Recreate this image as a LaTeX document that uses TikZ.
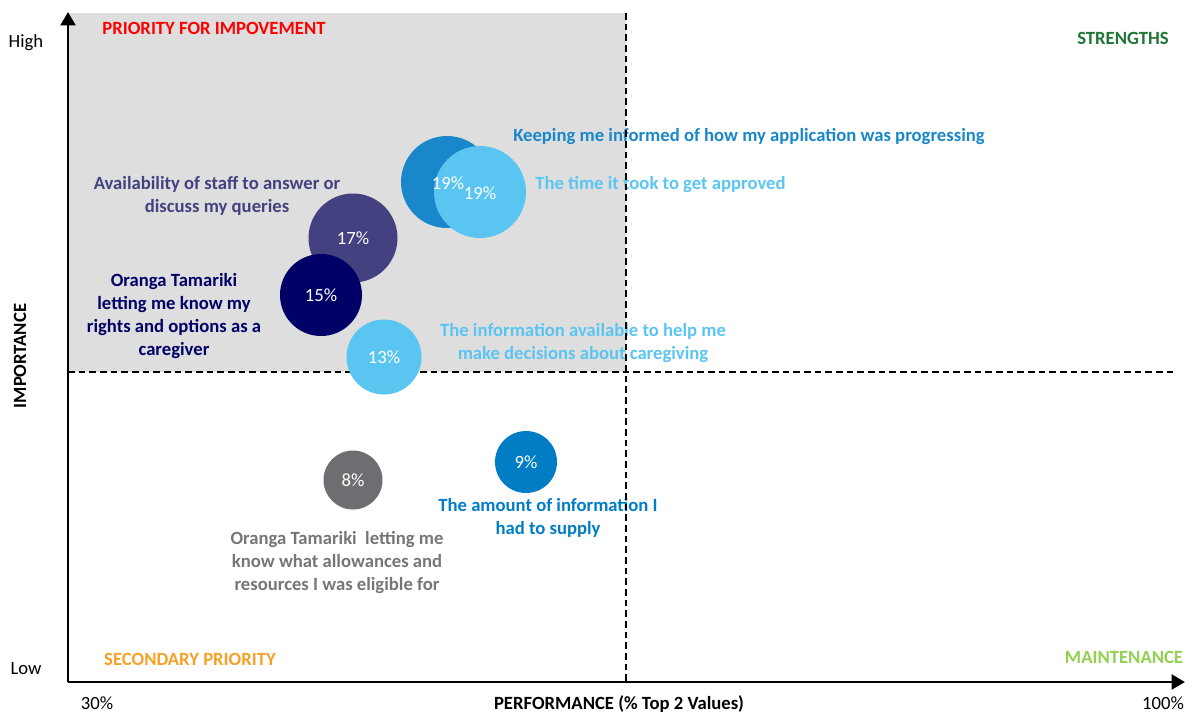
\documentclass[tikz,border=0pt]{standalone}
\usepackage{fontspec}
\setmainfont{Carlito}
\usetikzlibrary{arrows.meta}
\definecolor{bgGrey}{RGB}{222,222,222}
\definecolor{cRed}{RGB}{255,0,0}
\definecolor{cGreen}{RGB}{33,118,52}
\definecolor{cOrange}{RGB}{247,160,40}
\definecolor{cLGreen}{RGB}{146,208,80}
\definecolor{cBlue}{RGB}{26,135,202}
\definecolor{cLBlue}{RGB}{91,197,242}
\definecolor{cPurple}{RGB}{68,65,128}
\definecolor{cNavy}{RGB}{0,0,102}
\definecolor{cGrey}{RGB}{110,110,114}
\definecolor{cGreyT}{RGB}{118,118,120}
\definecolor{cBlue9}{RGB}{0,125,197}
\begin{document}
\begin{tikzpicture}[x=0.75pt,y=-0.75pt,
  bubble/.style={circle, inner sep=0pt, text=white, font=\fontsize{14}{16}\selectfont},
  lbl/.style={font=\bfseries\fontsize{14}{17.25}\selectfont, align=center, inner sep=0pt},
  quad/.style={font=\bfseries\fontsize{14}{16}\selectfont, inner sep=0pt},
  tick/.style={font=\fontsize{14}{16}\selectfont, inner sep=0pt},
  divider/.style={line width=1.3pt, dash pattern=on 5pt off 3pt},
  axis/.style={line width=2.2pt, -{Triangle[length=10pt,width=11pt]}}]
\useasboundingbox (0,0) rectangle (1192,715);
\fill[bgGrey] (68,13) rectangle (626,372);
% labels
\node[quad, text=cRed] (qpi) at (214,28) {PRIORITY FOR IMPOVEMENT};
\node[quad, text=cGreen] (qs) at (1123,38) {STRENGTHS};
\node[quad, text=cOrange] (qsp) at (190,659) {SECONDARY PRIORITY};
\node[quad, text=cLGreen] (qm) at (1124,657) {MAINTENANCE};
\node[tick] (high) at (26,43) {High};
\node[tick] (low) at (26,669) {Low};
\node[tick] (p30) at (97,703) {30\%};
\node[tick] (p100) at (1163,703) {100\%};
\node[quad] (xl) at (619,704) {PERFORMANCE (\% Top 2 Values)};
\node[quad, rotate=90] (yl) at (20,356) {IMPORTANCE};
\node[lbl, text=cBlue, anchor=west] (lk) at (513,137) {Keeping me informed of how my application was progressing};
\node[lbl, text=cLBlue, anchor=west] (lt) at (535,185) {The time it took to get approved};
\node[lbl, text=cPurple] (la) at (217,196) {Availability of staff to answer or\\discuss my queries};
\node[lbl, text=cNavy] (lo) at (174,316) {Oranga Tamariki\\letting me know my\\rights and options as a\\caregiver};
\node[lbl, text=cLBlue] (li) at (583,343) {The information available to help me\\make decisions about caregiving};
\node[lbl, text=cBlue9] (lam) at (548,518) {The amount of information I\\had to supply};
\node[lbl, text=cGreyT] (lr) at (337,563) {Oranga Tamariki\ \ letting me\\know what allowances and\\resources I was eligible for};
% dividers
\coordinate (vt) at (626,13);
\coordinate (vb) at (626,682);
\coordinate (hl) at (68,372);
\coordinate (hr) at (1175,372);
\draw[divider] (vt) -- (vb);
\draw[divider] (hl) -- (hr);
% axes
\coordinate (o) at (68,682);
\coordinate (ytop) at (68,12);
\coordinate (xend) at (1185,682);
\draw[axis] (o) -- (ytop);
\draw[axis] (o) -- (xend);
% bubbles
\node[bubble, fill=cBlue, minimum size=69pt] (b19a) at (447,182) {};
\node[bubble, fill=cLBlue, minimum size=69pt] (b19b) at (480,192) {};
\node[bubble] (t19a) at (448,183) {19\%};
\node[bubble] (t19b) at (480,193) {19\%};
\node[bubble, fill=cPurple, minimum size=66.75pt] (b17) at (353,238) {17\%};
\node[bubble, fill=cNavy, minimum size=61.5pt] (b15) at (321,295) {15\%};
\node[bubble, fill=cLBlue, minimum size=56.25pt] (b13) at (384,357) {13\%};
\node[bubble, fill=cGrey, minimum size=44.25pt] (b8) at (353,480) {8\%};
\node[bubble, fill=cBlue9, minimum size=46.5pt] (b9) at (526,462) {9\%};
\end{tikzpicture}
\end{document}
